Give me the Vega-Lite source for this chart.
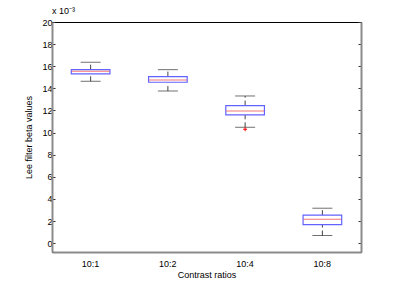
{
  "$schema": "https://vega.github.io/schema/vega-lite/v6.json",
  "autosize": "none",
  "width": 309,
  "height": 230,
  "padding": {"left": 52, "top": 22, "right": 38, "bottom": 48},
  "background": "white",
  "title": {"text": "x 10⁻³", "anchor": "start", "frame": "group", "fontSize": 9, "fontWeight": "normal", "font": "Liberation Sans", "offset": 2, "color": "black"},
  "config": {
    "view": {"stroke": "black", "strokeWidth": 1},
    "font": "Liberation Sans",
    "axis": {"labelFont": "Liberation Sans", "titleFont": "Liberation Sans", "labelFontSize": 9, "titleFontSize": 9, "titleFontWeight": "normal", "labelColor": "black", "titleColor": "black", "domainColor": "#8a8a8a", "domainWidth": 2, "tickColor": "#333333", "grid": false}
  },
  "data": {"values": [
    {"ratio": "10:1", "lo": 0.01464, "q1": 0.01530, "med": 0.01554, "q3": 0.01569, "hi": 0.01636, "out": null},
    {"ratio": "10:2", "lo": 0.01376, "q1": 0.01455, "med": 0.01476, "q3": 0.01506, "hi": 0.01569, "out": null},
    {"ratio": "10:4", "lo": 0.01048, "q1": 0.01160, "med": 0.01196, "q3": 0.01244, "hi": 0.01331, "out": 0.01030},
    {"ratio": "10:8", "lo": 0.00069, "q1": 0.00168, "med": 0.00217, "q3": 0.00253, "hi": 0.00316, "out": null}
  ]},
  "encoding": {
    "x": {"field": "ratio", "type": "nominal", "sort": null, "scale": {"paddingInner": 0, "paddingOuter": 0}, "axis": {"title": "Contrast ratios", "labelAngle": 0, "ticks": false, "labelPadding": 7, "titlePadding": 2}}
  },
  "layer": [
    {
      "mark": {"type": "rule", "color": "#444444", "strokeWidth": 1, "strokeDash": [5, 3]},
      "encoding": {
        "y": {"field": "q3", "type": "quantitative", "scale": {"domain": [-0.0008, 0.02], "nice": false, "zero": false},
          "axis": {"title": "Lee filter beta values", "values": [0, 0.002, 0.004, 0.006, 0.008, 0.01, 0.012, 0.014, 0.016, 0.018, 0.02], "labelExpr": "round(datum.value*1000)", "tickSize": -3, "labelPadding": 3, "titlePadding": 8}},
        "y2": {"field": "hi"}
      }
    },
    {
      "mark": {"type": "rule", "color": "#444444", "strokeWidth": 1, "strokeDash": [5, 3]},
      "encoding": {
        "y": {"field": "lo", "type": "quantitative", "axis": {"orient": "right", "title": null, "labels": false, "values": [0, 0.002, 0.004, 0.006, 0.008, 0.01, 0.012, 0.014, 0.016, 0.018, 0.02], "tickSize": -3}},
        "y2": {"field": "q1"}
      }
    },
    {
      "mark": {"type": "tick", "color": "#333333", "size": 20, "thickness": 1},
      "encoding": {"y": {"field": "hi", "type": "quantitative", "axis": null}}
    },
    {
      "mark": {"type": "tick", "color": "#333333", "size": 20, "thickness": 1},
      "encoding": {"y": {"field": "lo", "type": "quantitative", "axis": null}}
    },
    {
      "mark": {"type": "bar", "width": {"band": 0.5}, "fill": "white", "stroke": "#6262ff", "strokeWidth": 1.2},
      "encoding": {"y": {"field": "q1", "type": "quantitative", "axis": null}, "y2": {"field": "q3"}}
    },
    {
      "mark": {"type": "tick", "color": "#f03c3c", "size": 38, "thickness": 1},
      "encoding": {"y": {"field": "med", "type": "quantitative", "axis": null}}
    },
    {
      "mark": {"type": "point", "shape": "M-1,0L1,0M0,-1L0,1", "filled": false, "stroke": "#ff0000", "strokeWidth": 1, "size": 16, "opacity": 1},
      "encoding": {"y": {"field": "out", "type": "quantitative", "axis": null}}
    }
  ],
  "resolve": {"axis": {"y": "independent"}}
}
